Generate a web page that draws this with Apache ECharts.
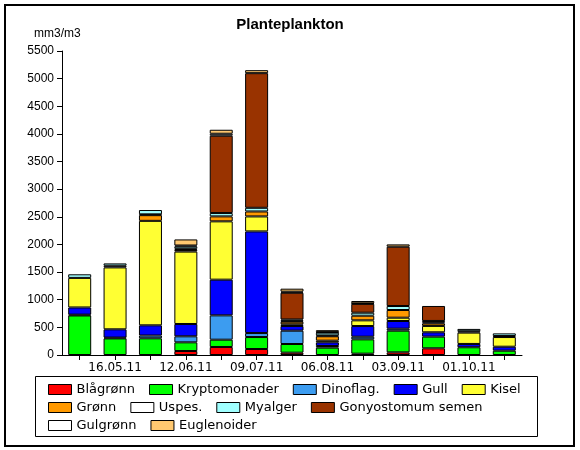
<!DOCTYPE html>
<html>
<head>
<meta charset="utf-8">
<script src="https://cdn.jsdelivr.net/npm/echarts@6/dist/echarts.min.js"></script>
<style>html,body{margin:0;padding:0;background:#fff}#c{width:580px;height:450px}</style>
</head>
<body>
<div id="c"></div>
<script>
const categories = ['', '16.05.11', '', '12.06.11', '', '09.07.11', '', '06.08.11', '', '03.09.11', '', '01.10.11', ''];
const yTicks = [0, 500, 1000, 1500, 2000, 2500, 3000, 3500, 4000, 4500, 5000, 5500];

const blagronn      = [0, 0, 0, 72, 145, 108, 42, 0, 24, 48, 121, 0, 0];
const kryptomonader = [715, 300, 302, 157, 132, 217, 157, 133, 259, 392, 211, 140, 78];
const dinoflag      = [15, 15, 50, 109, 440, 72, 241, 30, 48, 36, 0, 0, 0];
const gull          = [130, 150, 185, 223, 646, 1839, 85, 66, 193, 139, 79, 60, 72];
const kisel         = [535, 1120, 1890, 1310, 1055, 271, 30, 30, 103, 60, 115, 205, 175];
const gronn         = [0, 0, 103, 30, 90, 90, 48, 80, 84, 139, 45, 0, 0];
const uspes         = [0, 30, 15, 20, 0, 0, 15, 15, 0, 0, 20, 25, 18];
const myalger       = [65, 42, 78, 40, 60, 66, 25, 50, 54, 72, 25, 42, 48];
const gonyostomum   = [0, 0, 0, 0, 1399, 2436, 483, 0, 160, 1073, 271, 0, 0];
const gulgronn      = [0, 0, 0, 20, 36, 0, 20, 10, 10, 0, 0, 0, 0];
const euglenoider   = [0, 0, 0, 110, 72, 54, 54, 35, 42, 42, 0, 0, 0];

const seriesNames = ['Blågrønn', 'Kryptomonader', 'Dinoflag.', 'Gull', 'Kisel', 'Grønn', 'Uspes.', 'Myalger', 'Gonyostomum semen', 'Gulgrønn', 'Euglenoider'];
const seriesData = [blagronn, kryptomonader, dinoflag, gull, kisel, gronn, uspes, myalger, gonyostomum, gulgronn, euglenoider];
const seriesColors = ['#ff0000', '#00ff00', '#3c9cf0', '#0000ff', '#ffff33', '#ff9900', '#ffffff', '#a0ffff', '#993300', '#ffffff', '#ffc870'];

const arial = 'Liberation Sans, Arial, sans-serif';
const chart = echarts.init(document.getElementById('c'));
const legendText = { fontFamily: 'DejaVu Sans', fontSize: 13, color: '#000' };
const legendBase = {
  left: 48, orient: 'horizontal', icon: 'rect', itemWidth: 23, itemHeight: 10, itemGap: 14,
  textStyle: legendText, itemStyle: { borderColor: '#000', borderWidth: 1 }, selectedMode: false, padding: 0
};
chart.setOption({
  animation: false,
  backgroundColor: '#fff',
  title: {
    text: 'Planteplankton', left: 'center', top: 12,
    textStyle: { fontFamily: arial, fontWeight: 'bold', fontSize: 15, color: '#000' }
  },
  graphic: [
    { type: 'rect', shape: { x: 5, y: 5, width: 569, height: 441 }, style: { fill: 'none', stroke: '#000', lineWidth: 2 } },
    { type: 'rect', shape: { x: 35.5, y: 376.5, width: 502, height: 60 }, style: { fill: 'none', stroke: '#000', lineWidth: 1 } },
    { type: 'text', left: 34, top: 28, style: { text: 'mm3/m3', font: '12px "Liberation Sans", Arial, sans-serif', fill: '#000' } }
  ],
  legend: [
    Object.assign({}, legendBase, { top: 383, data: seriesNames.slice(0, 5) }),
    Object.assign({}, legendBase, { top: 401, data: seriesNames.slice(5, 9) }),
    Object.assign({}, legendBase, { top: 419, data: seriesNames.slice(9, 11) })
  ],
  grid: { left: 62, right: 58, top: 51, bottom: 95 },
  xAxis: {
    type: 'category', data: categories,
    axisLine: { lineStyle: { color: '#000', width: 1 } },
    axisTick: { show: true, alignWithLabel: true, interval: 0, length: 5, lineStyle: { color: '#000' } },
    axisLabel: { interval: 0, margin: 7, fontFamily: 'DejaVu Sans', fontSize: 12, color: '#000' }
  },
  yAxis: {
    type: 'value', min: yTicks[0], max: yTicks[yTicks.length - 1], interval: 500,
    axisLine: { show: true, lineStyle: { color: '#000', width: 1 } },
    axisTick: { show: true, length: 5, lineStyle: { color: '#000' } },
    splitLine: { show: false },
    axisLabel: { margin: 8, fontFamily: arial, fontSize: 12, color: '#000', formatter: v => String(v) }
  },
  series: seriesNames.map((name, i) => ({
    name: name, type: 'bar', stack: 'total', barWidth: 23,
    itemStyle: { color: seriesColors[i], borderColor: '#000', borderWidth: 1 },
    data: seriesData[i].map(v => v === 0 ? '-' : v)
  }))
});
</script>
</body>
</html>
